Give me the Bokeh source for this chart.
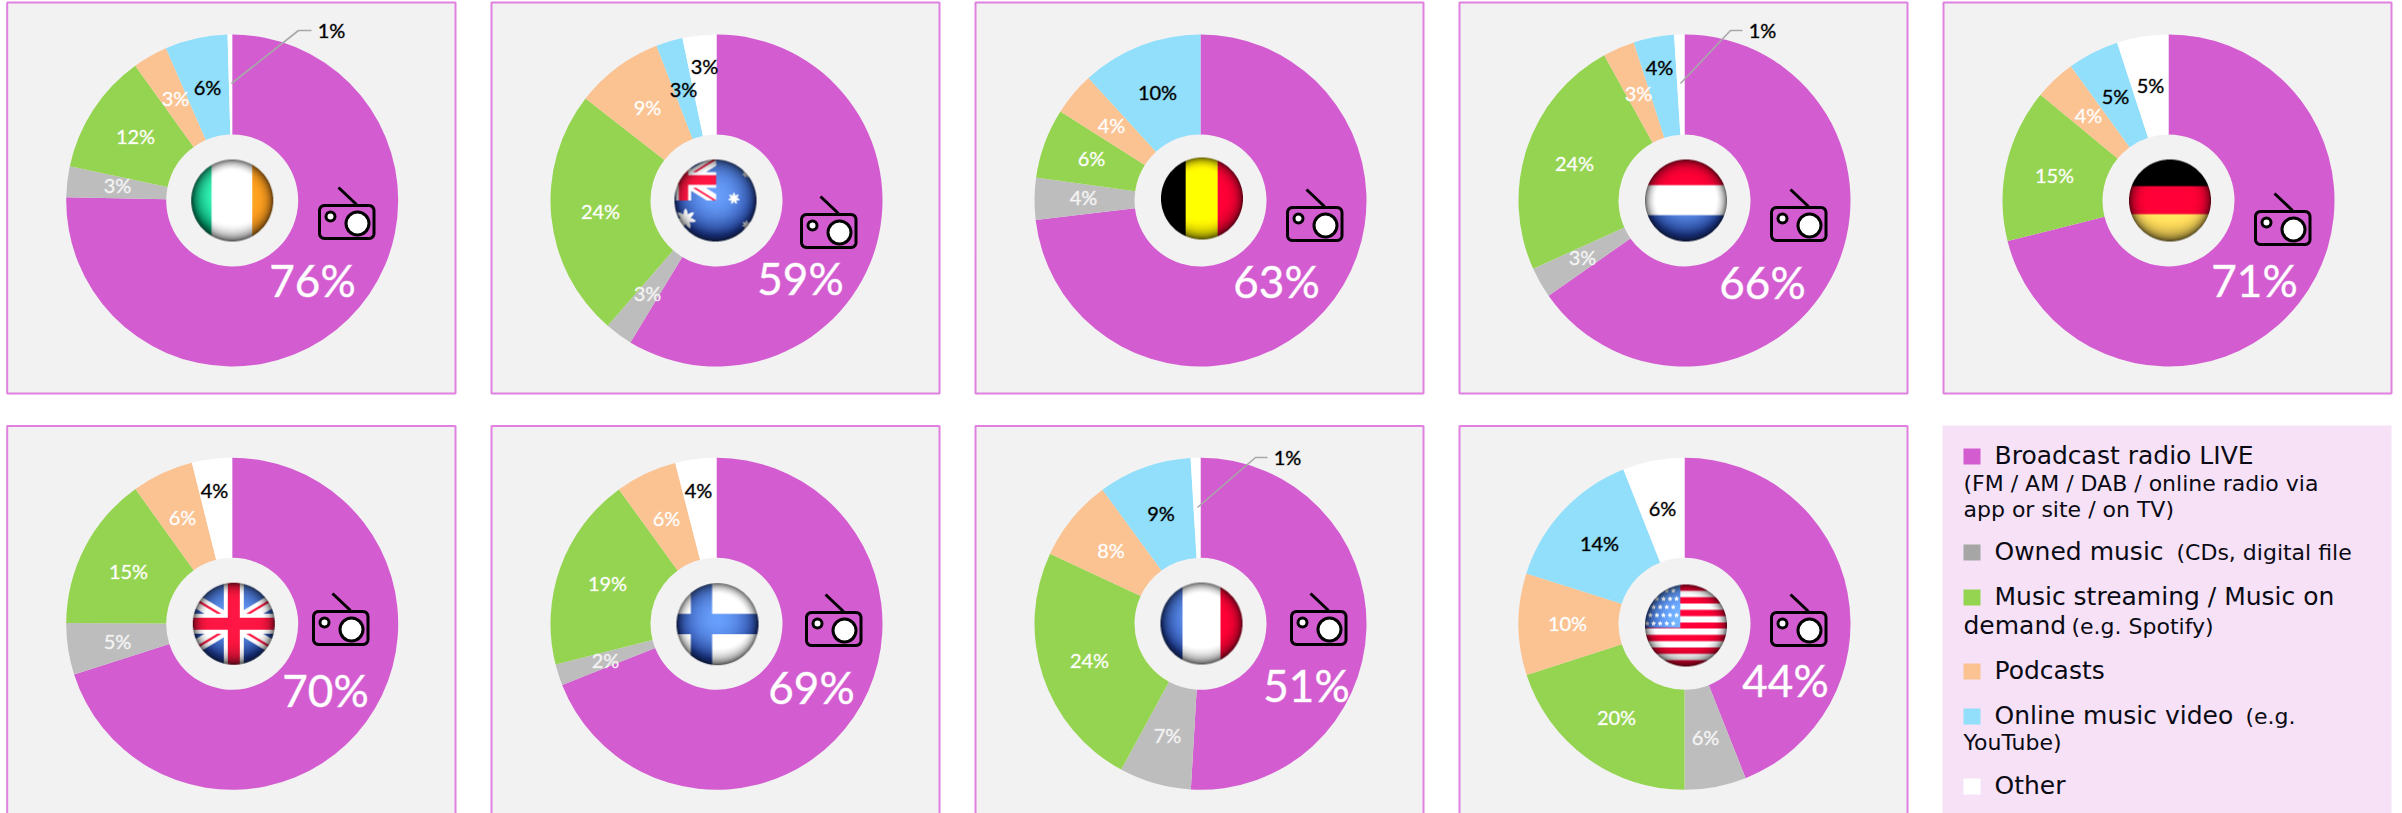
import numpy as np
from bokeh.plotting import figure
from bokeh.models import Range1d
from bokeh.core.properties import value
from bokeh.embed import file_html
from bokeh.resources import INLINE

# ---------- data ----------
COUNTRIES = ["Ireland", "Australia", "Belgium", "Netherlands", "Germany", "UK", "Finland", "France", "USA"]
SERIES = ["Broadcast radio LIVE", "Owned music", "Music streaming", "Podcasts", "Online music video", "Other"]
BROADCAST = [75.5, 58.8, 73.2, 65.4, 71.0, 70.0, 69.0, 50.9, 44.0]
OWNED     = [3.0, 2.7, 4.1, 3.0, 0.0, 5.0, 2.05, 7.0, 6.0]
STREAMING = [11.8, 24.2, 6.8, 23.75, 14.9, 15.0, 18.95, 24.0, 20.0]
PODCASTS  = [3.4, 8.6, 4.2, 3.1, 4.0, 6.0, 6.0, 8.0, 9.9]
VIDEO     = [6.1, 2.6, 11.8, 3.95, 5.0, 0.0, 0.0, 9.1, 14.1]
OTHER     = [0.45, 3.3, 0.0, 1.0, 5.0, 3.9, 4.0, 0.95, 6.0]

BROADCAST_LABEL = ["76%", "59%", "63%", "66%", "71%", "70%", "69%", "51%", "44%"]
OWNED_LABEL     = ["3%", "3%", "4%", "3%", None, "5%", "2%", "7%", "6%"]
STREAMING_LABEL = ["12%", "24%", "6%", "24%", "15%", "15%", "19%", "24%", "20%"]
PODCASTS_LABEL  = ["3%", "9%", "4%", "3%", "4%", "6%", "6%", "8%", "10%"]
VIDEO_LABEL     = ["6%", "3%", "10%", "4%", "5%", None, None, "9%", "14%"]
OTHER_LABEL     = ["1%", "3%", None, "1%", "5%", "4%", "4%", "1%", "6%"]

LEGEND_COLORS = ["#d35cd0", "#a6a6a6", "#95d450", "#fbc292", "#91dffb", "#ffffff"]
SLICE_COLORS  = ["#d35cd0", "#bdbdbd", "#95d450", "#fbc292", "#91dffb", "#ffffff"]

# ---------- layout (pixel positions of the picture) ----------
W, H = 2402, 813
CX = [231.7, 716, 1200, 1684, 2168, 231.7, 716, 1200, 1684]
CY = [200, 200, 200, 200, 200, 623.3, 623.3, 623.3, 623.3]
R_OUT, R_IN = 166, 66
PANEL_L = [6.7, 491, 975, 1459, 1943, 6.7, 491, 975, 1459]
PANEL_R = [455, 939, 1423, 1907, 2391, 455, 939, 1423, 1907]
PANEL_T = [2, 2, 2, 2, 2, 425.5, 425.5, 425.5, 425.5]
PANEL_B = [393, 393, 393, 393, 393, 830, 830, 830, 830]
FLAG_X = [231.7, 715, 1201.5, 1685.5, 2169.5, 233.3, 717, 1201, 1685.5]
FLAG_Y = [200, 200, 198, 200, 200, 623.3, 623.7, 623, 625]
RADIO_X = [318, 800, 1286, 1770, 2254, 312, 805, 1290, 1770]
RADIO_Y = [204, 213, 206, 206, 210, 610, 611, 610, 611]
POS_BROADCAST = [(312,282),(800,280),(1276,283),(1762,284),(2254,282),(325,692),(811,689),(1306,687),(1785,682)]
POS_OWNED = [(117,186),(647,294),(1083,198),(1582,258),None,(117,642),(605,661),(1167,736),(1705,738)]
POS_STREAMING = [(135,137),(600,212),(1091,159),(1574,164),(2054,176),(128,572),(607,584),(1089,661),(1616,718)]
POS_PODCASTS = [(175,99),(647,108),(1111,126),(1638,94),(2088,116),(182,518),(666,519),(1110.5,551),(1567,624)]
POS_VIDEO = [(207,88),(683,90),(1157,93),(1659,68),(2115,97),None,None,(1160.5,514),(1599,544)]
POS_OTHER = [(331,31),(704,67),None,(1762,31),(2150,86),(214,491),(698,491),(1287,458),(1662,509)]
LEADERS = [[(231,83),(298,30),(311,30)], [(1680,83),(1730,30),(1742,30)], [(1197,507),(1255,457),(1267,457)]]


def Y(y):
    return H - np.asarray(y, dtype=float)


p = figure(width=W, height=H, x_range=Range1d(0, W), y_range=Range1d(0, H),
           toolbar_location=None, output_backend="svg", min_border=0,
           background_fill_color="#ffffff", border_fill_color="#ffffff")
p.axis.visible = False
p.grid.visible = False
p.outline_line_color = None

# ---------- panels ----------
p.quad(left=PANEL_L, right=PANEL_R, top=Y(PANEL_T), bottom=Y(PANEL_B),
       fill_color="#f2f2f2", line_color="#e080e0", line_width=2)

# ---------- donuts ----------
rows = list(zip(BROADCAST, OWNED, STREAMING, PODCASTS, VIDEO, OTHER))
xs, ys, st, en, col = [], [], [], [], []
for i, row in enumerate(rows):
    a = np.array(row, float)
    cum = np.concatenate([[0], np.cumsum(a / a.sum())])
    for j in range(6):
        if a[j] <= 0:
            continue
        xs.append(CX[i]); ys.append(H - CY[i])
        st.append(np.pi / 2 - cum[j] * 2 * np.pi)
        en.append(np.pi / 2 - cum[j + 1] * 2 * np.pi)
        col.append(SLICE_COLORS[j])
p.annular_wedge(x=xs, y=ys, inner_radius=R_IN, outer_radius=R_OUT, start_angle=st, end_angle=en,
                direction="clock", fill_color=col, line_color=None)


# ---------- flags (small rasters with a glossy-ball shading) ----------
def star(u, v, cx, cy, r, n=7, inner=0.45):
    du, dv = u - cx, v - cy
    rr = np.hypot(du, dv)
    th = np.arctan2(du, -dv)
    k = (th * n / (2 * np.pi)) % 1.0
    k = np.abs(k - 0.5) * 2
    return rr < r * (inner + (1 - inner) * k)


def union_jack(img, u, v, cu, cv, s, slope, white=(250, 250, 250), red=(235, 20, 60)):
    du, dv = u - cu, v - cv
    d1 = np.abs(dv - slope * du) / np.hypot(1, slope)
    d2 = np.abs(dv + slope * du) / np.hypot(1, slope)
    img[(d1 < 0.16 * s) | (d2 < 0.16 * s)] = white
    m1 = (d1 < 0.055 * s) & (((du > 0) & (dv - slope * du > 0)) | ((du < 0) & (dv - slope * du < 0)))
    m2 = (d2 < 0.055 * s) & (((du > 0) & (dv + slope * du < 0)) | ((du < 0) & (dv + slope * du > 0)))
    img[m1 | m2] = red
    img[(np.abs(du) < 0.24 * s) | (np.abs(dv) < 0.24 * s)] = white
    img[(np.abs(du) < 0.15 * s) | (np.abs(dv) < 0.15 * s)] = red


def flag_image(name, rad=41, ss=3):
    n = (2 * rad + 4) * ss
    c = (np.arange(n) + 0.5) / ss - (rad + 2)
    u, v = np.meshgrid(c / rad, c / rad)  # v grows downward
    img = np.zeros((n, n, 3), float)
    img[:] = (255, 255, 255)
    RED, BLUE = (235, 0, 50), (30, 60, 150)
    if name == "Ireland":
        img[u < -0.5] = (0, 160, 110)
        img[u > 0.49] = (240, 150, 30)
    elif name == "Australia":
        img[:] = BLUE
        can = (u < 0.02) & (v < 0)
        sub = img.copy()
        union_jack(sub, u, v, -0.78, -0.5, 0.78, 0.62)
        img[can] = sub[can]
        for (sx, sy, sr) in [(-0.73, 0.45, 0.26), (0.45, -0.05, 0.15), (0.75, -0.65, 0.1), (0.76, 0.6, 0.12)]:
            img[star(u, v, sx, sy, sr)] = (250, 250, 250)
    elif name == "Belgium":
        img[u < -0.4] = (0, 0, 0)
        img[(u >= -0.4) & (u < 0.38)] = (255, 245, 0)
        img[u >= 0.38] = RED
    elif name == "Netherlands":
        img[v < -0.37] = RED
        img[v > 0.36] = BLUE
    elif name == "Germany":
        img[v < -0.35] = (0, 0, 0)
        img[(v >= -0.35) & (v < 0.33)] = RED
        img[v >= 0.33] = (250, 215, 90)
    elif name == "UK":
        img[:] = BLUE
        union_jack(img, u, v, 0.0, 0.0, 1.0, 0.6)
    elif name == "Finland":
        img[(u > -0.65) & (u < -0.13)] = BLUE
        img[(v > -0.25) & (v < 0.24)] = BLUE
    elif name == "France":
        img[u < -0.46] = BLUE
        img[u > 0.46] = RED
    elif name == "USA":
        idx = np.floor((v + 1.0) / (2.0 / 13)).astype(int)
        img[idx % 2 == 0] = RED
        can = (u < -0.14) & (v < 0.06)
        img[can] = (45, 85, 175)
        for a in range(5):
            for b in range(6):
                sx = -0.95 + b * 0.16 + (0.08 if a % 2 else 0)
                sy = -0.85 + a * 0.2
                if sx < -0.15:
                    img[star(u, v, sx, sy, 0.06, n=5)] = (250, 250, 250)
    r = np.hypot(u, v)
    rc = np.clip(r, 0, 1)
    shade = (1 - 0.62 * rc ** 8) * (1 - 0.22 * np.clip(v, 0, 1) ** 2)
    glow = 1 + 0.15 * (1 - rc ** 2)
    out = img * (shade * glow)[..., None]
    blue_px = (img[..., 2] > img[..., 0] + 50)
    lift = (blue_px * np.clip(1 - (u ** 2 + (v + 0.15) ** 2), 0, 1))[..., None] * np.array([70.0, 90.0, 80.0])
    out = np.clip(out + lift, 0, 255)
    alpha = (r <= 1).astype(float)
    k = ss
    m = n // k
    a_small = alpha.reshape(m, k, m, k).mean(axis=(1, 3))
    rgb_small = (out * alpha[..., None]).reshape(m, k, m, k, 3).sum(axis=(1, 3)) / np.maximum(
        alpha.reshape(m, k, m, k).sum(axis=(1, 3)), 1e-6)[..., None]
    rgba = np.dstack([rgb_small, a_small * 255]).astype(np.uint8)
    return np.flipud(rgba).copy()


for i, name in enumerate(COUNTRIES):
    rgba = flag_image(name)
    h, w, _ = rgba.shape
    view = rgba.view(dtype=np.uint32).reshape(h, w)
    p.image_rgba(image=[view], x=FLAG_X[i] - w / 2, y=H - FLAG_Y[i] - h / 2, dw=w, dh=h)

# ---------- radio icons ----------
def round_rect(x0, y0, w, h, r):
    px, py = [], []
    for (cx, cy, a0) in [(x0 + w - r, y0 + r, -90), (x0 + w - r, y0 + h - r, 0), (x0 + r, y0 + h - r, 90), (x0 + r, y0 + r, 180)]:
        for t in np.radians(np.arange(a0, a0 + 91, 15)):
            px.append(cx + r * np.cos(t)); py.append(cy + r * np.sin(t))
    px.append(px[0]); py.append(py[0])
    return px, py


for rx, ry in zip(RADIO_X, RADIO_Y):
    px, py = round_rect(rx + 1, ry + 1, 54.5, 33, 5)
    p.line(px, Y(py), line_color="#000000", line_width=3)
    p.line([rx + 20, rx + 38], Y([ry - 17, ry]), line_color="#000000", line_width=3)
    p.circle(x=[rx + 39, rx + 12], y=Y([ry + 19, ry + 12]), radius=[11.5, 4.5],
             fill_color="#ffffff", line_color="#000000", line_width=3)

# ---------- leader lines ----------
for L in LEADERS:
    p.line([q[0] for q in L], Y([q[1] for q in L]), line_color="#a8a8a8", line_width=1.6)

# ---------- percent labels ----------
PCT_FONT = "Lato"
LEG_FONT = "DejaVu Sans"


def add_labels(labels, positions, color, size, lift=2.0, outline=None):
    tx, ty, tt = [], [], []
    for s, q in zip(labels, positions):
        if s is None or q is None:
            continue
        tx.append(q[0]); ty.append(H - q[1] + lift); tt.append(s)
    p.text(x=tx, y=ty, text=tt, text_align="center", text_baseline="middle",
           text_color=color, text_font=value(PCT_FONT), text_font_size=value(size),
           text_outline_color=outline)


add_labels(BROADCAST_LABEL, POS_BROADCAST, "#ffffff", "44px", lift=3.0, outline="rgba(255,255,255,0.4)")
add_labels(OWNED_LABEL, POS_OWNED, "#f2f2f2", "20px", outline="rgba(255,255,255,0.3)")
add_labels(STREAMING_LABEL, POS_STREAMING, "#ffffff", "20px", outline="rgba(255,255,255,0.3)")
add_labels(PODCASTS_LABEL, POS_PODCASTS, "#ffffff", "20px", outline="rgba(255,255,255,0.3)")
add_labels(VIDEO_LABEL, POS_VIDEO, "#000000", "20px", outline="rgba(0,0,0,0.35)")
add_labels(OTHER_LABEL, POS_OTHER, "#000000", "20px", outline="rgba(0,0,0,0.35)")

# ---------- legend ----------
p.quad(left=[1942], right=[2391], top=Y([425]), bottom=Y([830]), fill_color="#f6e1f6", line_color=None)
SW_TOP = [448, 544, 589, 663, 708, 778]
p.quad(left=[1963] * 6, right=[1980] * 6, top=Y(SW_TOP), bottom=Y([v + 16 for v in SW_TOP]),
       fill_color=LEGEND_COLORS, line_color=None)
LEG_BIG = [("Broadcast radio LIVE", 1994, 454.5), ("Owned music", 1994, 550.5), ("Music streaming / Music on", 1994, 595.5),
           ("demand", 1963, 624.5), ("Podcasts", 1994, 669.5), ("Online music video", 1994, 714.5), ("Other", 1994, 784.5)]
LEG_SMALL = [("(FM / AM / DAB / online radio via", 1963, 482.5), ("app or site / on TV)", 1963, 508.5),
             ("(CDs, digital file", 2176, 551.5), ("(e.g. Spotify)", 2071, 625.5), ("(e.g.", 2245, 715.5), ("YouTube)", 1963, 741.5)]
for items, size in [(LEG_BIG, "25px"), (LEG_SMALL, "22px")]:
    p.text(x=[t[1] for t in items], y=Y([t[2] for t in items]), text=[t[0] for t in items],
           text_align="left", text_baseline="middle", text_color="#0a0a14",
           text_font=value(LEG_FONT), text_font_size=value(size))

open("out.html", "w").write(file_html(p, INLINE))
